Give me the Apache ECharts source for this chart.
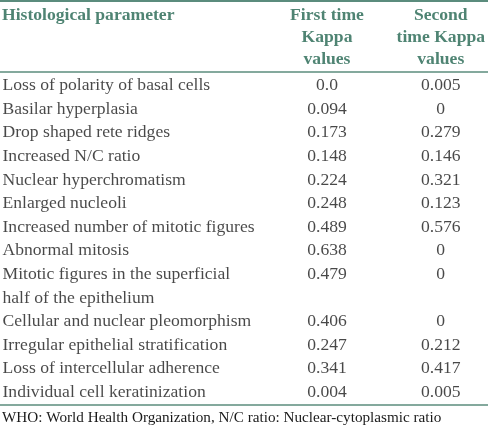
<!DOCTYPE html>
<html>
<head>
<meta charset="utf-8">
<script src="https://cdn.jsdelivr.net/npm/echarts@6/dist/echarts.min.js"></script>
<style>html,body{margin:0;padding:0;background:#fff}#c{width:488px;height:426px}</style>
</head>
<body>
<div id="c"></div>
<script>
var parameters = [
  'Loss of polarity of basal cells',
  'Basilar hyperplasia',
  'Drop shaped rete ridges',
  'Increased N/C ratio',
  'Nuclear hyperchromatism',
  'Enlarged nucleoli',
  'Increased number of mitotic figures',
  'Abnormal mitosis',
  'Mitotic figures in the superficial\nhalf of the epithelium',
  'Cellular and nuclear pleomorphism',
  'Irregular epithelial stratification',
  'Loss of intercellular adherence',
  'Individual cell keratinization'
];
var firstKappa = ['0.0','0.094','0.173','0.148','0.224','0.248','0.489','0.638','0.479','0.406','0.247','0.341','0.004'];
var secondKappa = ['0.005','0','0.279','0.146','0.321','0.123','0.576','0','0','0','0.212','0.417','0.005'];
var columnHeaders = ['First time\nKappa\nvalues', 'Second\ntime Kappa\nvalues'];
var paramHeader = 'Histological parameter';
var footnote = 'WHO: World Health Organization, N/C ratio: Nuclear-cytoplasmic ratio';

var GREEN = '#4f8473';
var LINE = '#5b8c7d';
var TEXT = '#1a1a1a';
var FONT = '"Liberation Serif", "Times New Roman", serif';
var FS = 17.6;
var LH = 23.6;

// line slot of each row, derived from the number of text lines in each parameter
var startLine = [];
var acc = 0;
parameters.forEach(function (p) { startLine.push(acc); acc += p.split('\n').length; });
var totalLines = acc;

var paramData = parameters.map(function (p, i) {
  return { value: [0, startLine[i] + p.split('\n').length / 2], name: p };
});
var firstData = firstKappa.map(function (v, i) { return { value: [columnHeaders[0], startLine[i] + 0.5], txt: v }; });
var secondData = secondKappa.map(function (v, i) { return { value: [columnHeaders[1], startLine[i] + 0.5], txt: v }; });

var gridTop = 73.7, gridH = totalLines * LH;

var chart = echarts.init(document.getElementById('c'), null, { renderer: 'canvas' });
chart.setOption({
  animation: false,
  backgroundColor: '#fff',
  title: [
    { text: paramHeader, left: 2, top: 4.5, padding: 0,
      textStyle: { fontFamily: FONT, fontSize: FS, fontWeight: 'bold', color: GREEN, lineHeight: 22 } },
    { text: footnote, left: 2, top: 409, padding: 0,
      textStyle: { fontFamily: FONT, fontSize: 15.2, fontWeight: 'normal', color: TEXT, lineHeight: 18 } }
  ],
  grid: [
    { left: 2, width: 300, top: gridTop, height: gridH },
    { left: 327, right: 46, top: gridTop, height: gridH }
  ],
  xAxis: [
    { gridIndex: 0, type: 'value', min: 0, max: 1, show: false },
    { gridIndex: 1, type: 'category', data: columnHeaders, boundaryGap: false, position: 'top',
      axisLine: { show: false }, axisTick: { show: false }, splitLine: { show: false },
      axisLabel: { interval: 0, margin: 3.8, fontFamily: FONT, fontSize: FS, fontWeight: 'bold',
        color: GREEN, lineHeight: 21.8, align: 'center' } }
  ],
  yAxis: [
    { gridIndex: 0, type: 'value', inverse: true, min: 0, max: totalLines, show: false },
    { gridIndex: 1, type: 'value', inverse: true, min: 0, max: totalLines, show: false }
  ],
  series: [
    { type: 'scatter', xAxisIndex: 0, yAxisIndex: 0, silent: true, symbolSize: 1,
      itemStyle: { color: 'rgba(0,0,0,0)' }, data: paramData,
      label: { show: true, position: 'right', distance: 0, align: 'left', verticalAlign: 'middle',
        formatter: function (p) { return p.name; },
        fontFamily: FONT, fontSize: FS, color: TEXT, lineHeight: LH } },
    { type: 'scatter', xAxisIndex: 1, yAxisIndex: 1, silent: true, symbolSize: 1,
      itemStyle: { color: 'rgba(0,0,0,0)' }, data: firstData,
      label: { show: true, position: 'inside', align: 'center', verticalAlign: 'middle',
        formatter: function (p) { return p.data.txt; },
        fontFamily: FONT, fontSize: FS, color: TEXT } },
    { type: 'scatter', xAxisIndex: 1, yAxisIndex: 1, silent: true, symbolSize: 1,
      itemStyle: { color: 'rgba(0,0,0,0)' }, data: secondData,
      label: { show: true, position: 'inside', align: 'center', verticalAlign: 'middle',
        formatter: function (p) { return p.data.txt; },
        fontFamily: FONT, fontSize: FS, color: TEXT } }
  ],
  graphic: [
    { type: 'line', silent: true, shape: { x1: 0, y1: 1, x2: 488, y2: 1 }, style: { stroke: LINE, lineWidth: 2 } },
    { type: 'line', silent: true, shape: { x1: 0, y1: 72, x2: 488, y2: 72 }, style: { stroke: LINE, lineWidth: 1.5 } },
    { type: 'line', silent: true, shape: { x1: 0, y1: 405, x2: 488, y2: 405 }, style: { stroke: LINE, lineWidth: 1.5 } }
  ]
});
</script>
</body>
</html>
